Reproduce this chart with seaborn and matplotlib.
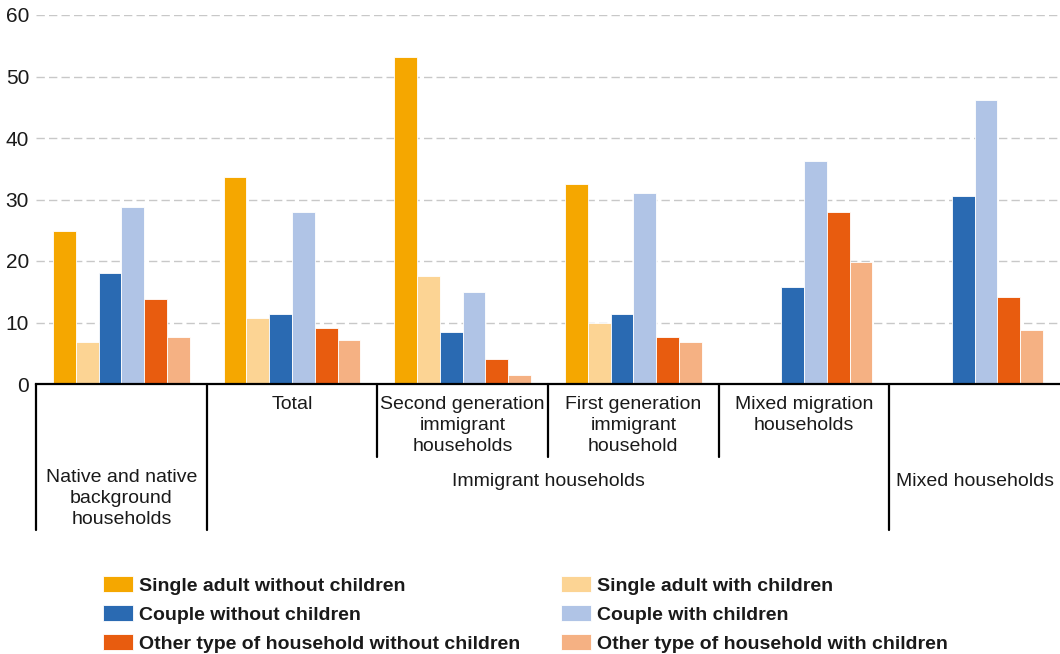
import matplotlib
matplotlib.use("Agg")
import matplotlib.pyplot as plt
import seaborn as sns
import pandas as pd
import numpy as np
from matplotlib import font_manager

# ---- data ----
groups = ["Native and native background households", "Total",
          "Second generation immigrant households", "First generation immigrant household",
          "Mixed migration households", "Mixed households"]
series = ["Single adult without children", "Single adult with children",
          "Couple without children", "Couple with children",
          "Other type of household without children", "Other type of household with children"]
single_without = [24.9, 33.7, 53.1, 32.5, np.nan, np.nan]
single_with = [6.9, 10.7, 17.6, 10.0, np.nan, np.nan]
couple_without = [18.0, 11.4, 8.4, 11.4, 15.7, 30.6]
couple_with = [28.7, 27.9, 14.9, 31.0, 36.3, 46.2]
other_without = [13.8, 9.1, 4.1, 7.6, 27.9, 14.1]
other_with = [7.6, 7.2, 1.5, 6.8, 19.9, 8.8]
yticks = [0, 10, 20, 30, 40, 50, 60]

row1_labels = ["Total", "Second generation\nimmigrant\nhouseholds",
               "First generation\nimmigrant\nhousehold", "Mixed migration\nhouseholds"]
row2_labels = ["Native and native\nbackground\nhouseholds", "Immigrant households", "Mixed households"]

colors = ["#F5A700", "#FCD494", "#2A6AB2", "#B0C4E6", "#E85C0F", "#F5B183"]

values = [single_without, single_with, couple_without, couple_with, other_without, other_with]
rows = []
for s, vals in zip(series, values):
    for g, v in zip(groups, vals):
        rows.append({"group": g, "series": s, "value": v})
df = pd.DataFrame(rows)

# ---- style ----
sns.set_theme(style="white")
names = {f.name for f in font_manager.fontManager.ttflist}
fam = "Liberation Sans Narrow" if "Liberation Sans Narrow" in names else "Liberation Sans"
plt.rcParams["font.family"] = [fam, "DejaVu Sans"]
txt = "#1a1a1a"

W, H = 1060, 654
fig = plt.figure(figsize=(W / 100, H / 100), dpi=100)
ax = fig.add_axes([36 / W, 1 - 384 / H, 1 - 36 / W, (384 - 15) / H])

sns.barplot(data=df, x="group", y="value", hue="series", order=groups,
            hue_order=series, palette=colors, ax=ax, width=0.8,
            edgecolor="white", linewidth=0.6, errorbar=None, saturation=1)

ax.set_xlim(-0.5, 5.5)
ax.set_ylim(0, 60)
ax.set_yticks(yticks)
ax.set_yticklabels([str(t) for t in yticks], fontsize=15, color=txt)
ax.tick_params(axis="y", length=0, pad=5)
ax.set_xticks([])
ax.set_xlabel("")
ax.set_ylabel("")
for sp in ["left", "right", "top"]:
    ax.spines[sp].set_visible(False)
ax.spines["bottom"].set_color("black")
ax.spines["bottom"].set_linewidth(1.6)
ax.yaxis.grid(True, color="#c8c8c8", linestyle=(0, (6, 3)), linewidth=1.0)
ax.set_axisbelow(True)

# hierarchical axis
tr = ax.get_xaxis_transform()
def ypx(p):
    return (384 - p) / 369.0

for x in [-0.5, 0.5, 4.5]:
    ax.plot([x, x], [0, ypx(530)], color="black", lw=1.6, transform=tr, clip_on=False)
for x in [1.5, 2.5, 3.5]:
    ax.plot([x, x], [0, ypx(457)], color="black", lw=1.6, transform=tr, clip_on=False)

fs = 14
ls = 1.3
for i, lab in enumerate(row1_labels):
    ax.text(i + 1, ypx(396), lab, transform=tr, ha="center", va="top",
            fontsize=fs, color=txt, linespacing=ls, multialignment="center")
ax.text(0, ypx(469), row2_labels[0], transform=tr, ha="center", va="top",
        fontsize=fs, color=txt, linespacing=ls, multialignment="center")
ax.text(2.5, ypx(481), row2_labels[1], transform=tr, ha="center", va="center",
        fontsize=fs, color=txt)
ax.text(5, ypx(481), row2_labels[2], transform=tr, ha="center", va="center",
        fontsize=fs, color=txt)

# legend (row-major order as in reference)
handles, labels = ax.get_legend_handles_labels()
order = [0, 2, 4, 1, 3, 5]
ax.get_legend().remove()
lfs = 14
leg = fig.legend([handles[i] for i in order], [labels[i] for i in order],
                 loc="upper left", bbox_to_anchor=(103 / W, 1 - 576 / H),
                 ncol=2, frameon=False,
                 prop={"weight": "bold", "size": lfs}, handlelength=1.55,
                 handleheight=0.9, handletextpad=0.3, labelspacing=0.52,
                 columnspacing=2.1, borderpad=0, borderaxespad=0)
for t in leg.get_texts():
    t.set_color(txt)

fig.savefig("out.png", dpi=100)
